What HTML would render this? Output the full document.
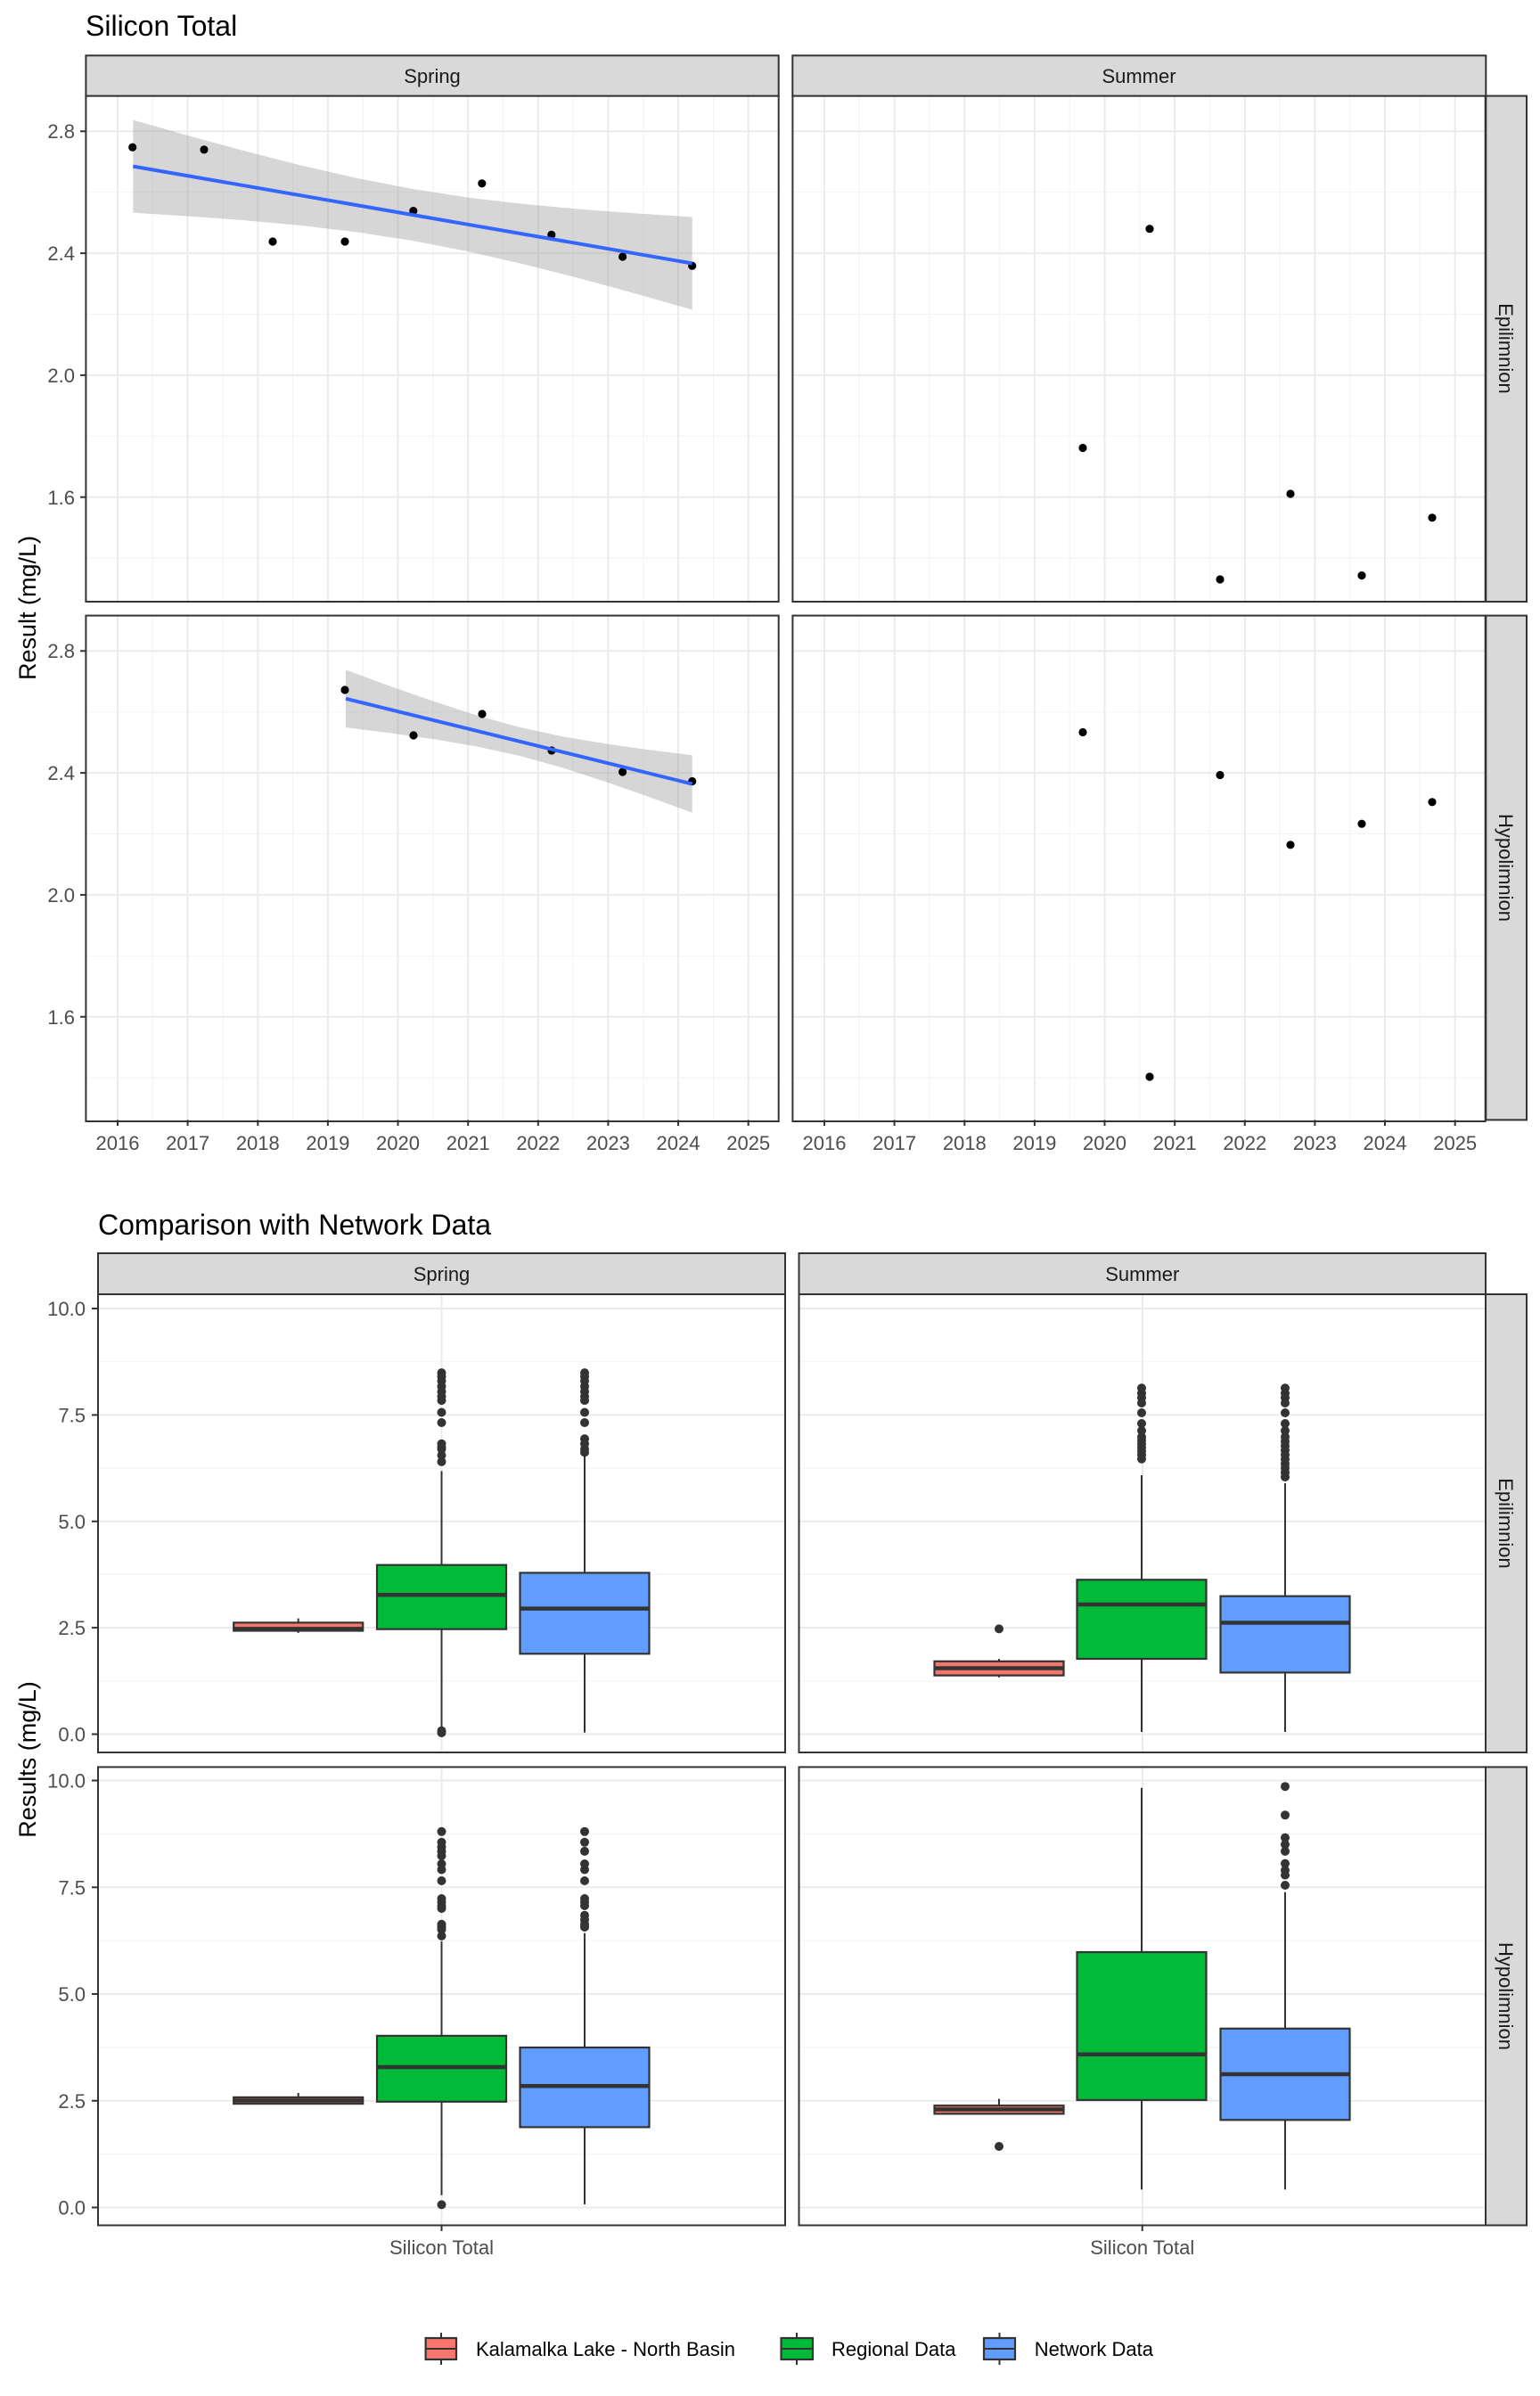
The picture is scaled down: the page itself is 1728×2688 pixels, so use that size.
<!DOCTYPE html>
<html><head><meta charset="utf-8"><style>
html,body{margin:0;padding:0;background:#fff;}
svg{display:block;font-family:"Liberation Sans",Arial,sans-serif;}
.mj{stroke:#ebebeb;stroke-width:2;}
.mn{stroke:#f4f4f4;stroke-width:1.2;}
.pb{fill:none;stroke:#333;stroke-width:2;}
.st{fill:#d9d9d9;stroke:#333;stroke-width:2;}
.tk{stroke:#333;stroke-width:2;}
.yl{font-size:22px;fill:#4d4d4d;text-anchor:end;}
.xl{font-size:22px;fill:#4d4d4d;text-anchor:middle;}
.sl{font-size:22px;fill:#1a1a1a;text-anchor:middle;}
.pt{fill:#000;}
.od{fill:#333;}
.bx{stroke:#333;stroke-width:2.2;}
.md{stroke:#333;stroke-width:4.5;}
.wh{stroke:#333;stroke-width:2;}
</style></head><body>
<svg width="1728" height="2688" viewBox="0 0 1728 2688" xmlns="http://www.w3.org/2000/svg">
<defs>
<g id="tg">
<line class="mn" x1="96.4" x2="873.7" y1="215.7" y2="215.7"/><line class="mn" x1="96.4" x2="873.7" y1="352.5" y2="352.5"/><line class="mn" x1="96.4" x2="873.7" y1="489.3" y2="489.3"/><line class="mn" x1="96.4" x2="873.7" y1="626.1" y2="626.1"/>
<line class="mn" x1="171.3" x2="171.3" y1="107.6" y2="675"/><line class="mn" x1="249.9" x2="249.9" y1="107.6" y2="675"/><line class="mn" x1="328.6" x2="328.6" y1="107.6" y2="675"/><line class="mn" x1="407.2" x2="407.2" y1="107.6" y2="675"/><line class="mn" x1="485.8" x2="485.8" y1="107.6" y2="675"/><line class="mn" x1="564.5" x2="564.5" y1="107.6" y2="675"/><line class="mn" x1="643.1" x2="643.1" y1="107.6" y2="675"/><line class="mn" x1="721.7" x2="721.7" y1="107.6" y2="675"/><line class="mn" x1="800.4" x2="800.4" y1="107.6" y2="675"/>
<line class="mj" x1="96.4" x2="873.7" y1="147.3" y2="147.3"/><line class="mj" x1="96.4" x2="873.7" y1="284.1" y2="284.1"/><line class="mj" x1="96.4" x2="873.7" y1="420.9" y2="420.9"/><line class="mj" x1="96.4" x2="873.7" y1="557.7" y2="557.7"/>
<line class="mj" x1="132" x2="132" y1="107.6" y2="675"/><line class="mj" x1="210.6" x2="210.6" y1="107.6" y2="675"/><line class="mj" x1="289.3" x2="289.3" y1="107.6" y2="675"/><line class="mj" x1="367.9" x2="367.9" y1="107.6" y2="675"/><line class="mj" x1="446.5" x2="446.5" y1="107.6" y2="675"/><line class="mj" x1="525.2" x2="525.2" y1="107.6" y2="675"/><line class="mj" x1="603.8" x2="603.8" y1="107.6" y2="675"/><line class="mj" x1="682.4" x2="682.4" y1="107.6" y2="675"/><line class="mj" x1="761" x2="761" y1="107.6" y2="675"/><line class="mj" x1="839.7" x2="839.7" y1="107.6" y2="675"/>
<rect class="pb" x="96.4" y="107.6" width="777.3" height="567.4"/>
</g>
<g id="bg1">
<line class="mn" x1="110" x2="881" y1="1885.8" y2="1885.8"/><line class="mn" x1="110" x2="881" y1="1766.4" y2="1766.4"/><line class="mn" x1="110" x2="881" y1="1647.1" y2="1647.1"/><line class="mn" x1="110" x2="881" y1="1527.7" y2="1527.7"/>
<line class="mj" x1="110" x2="881" y1="1945.5" y2="1945.5"/><line class="mj" x1="110" x2="881" y1="1826.1" y2="1826.1"/><line class="mj" x1="110" x2="881" y1="1706.8" y2="1706.8"/><line class="mj" x1="110" x2="881" y1="1587.4" y2="1587.4"/><line class="mj" x1="110" x2="881" y1="1468" y2="1468"/>
<line class="mj" x1="495.5" x2="495.5" y1="1452" y2="1966"/>
</g>
<g id="bg2">
<line class="mn" x1="110" x2="881" y1="2416.6" y2="2416.6"/><line class="mn" x1="110" x2="881" y1="2296.9" y2="2296.9"/><line class="mn" x1="110" x2="881" y1="2177.2" y2="2177.2"/><line class="mn" x1="110" x2="881" y1="2057.4" y2="2057.4"/>
<line class="mj" x1="110" x2="881" y1="2476.5" y2="2476.5"/><line class="mj" x1="110" x2="881" y1="2356.8" y2="2356.8"/><line class="mj" x1="110" x2="881" y1="2237" y2="2237"/><line class="mj" x1="110" x2="881" y1="2117.3" y2="2117.3"/><line class="mj" x1="110" x2="881" y1="1997.5" y2="1997.5"/>
<line class="mj" x1="495.5" x2="495.5" y1="1982.4" y2="2496.5"/>
</g>
</defs>

<!-- ===== TOP CHART ===== -->
<text x="96" y="40" font-size="32" fill="#000">Silicon Total</text>

<use href="#tg"/>
<use href="#tg" transform="translate(793,0)"/>
<use href="#tg" transform="translate(0,583)"/>
<use href="#tg" transform="translate(793,583)"/>

<rect class="st" x="96.4" y="62.3" width="777.3" height="45.3"/>
<rect class="st" x="889.3" y="62.3" width="778" height="45.3"/>
<text class="sl" x="485" y="93">Spring</text>
<text class="sl" x="1278" y="93">Summer</text>
<rect class="st" x="1667.3" y="107.6" width="45.7" height="567.4"/>
<rect class="st" x="1667.3" y="690.6" width="45.7" height="565.8"/>
<text class="sl" transform="translate(1690,391) rotate(90)" dy="8">Epilimnion</text>
<text class="sl" transform="translate(1690,973.5) rotate(90)" dy="8">Hypolimnion</text>

<!-- y ticks top -->
<g>
<line class="tk" x1="90" x2="96.4" y1="147.3" y2="147.3"/><line class="tk" x1="90" x2="96.4" y1="284.1" y2="284.1"/><line class="tk" x1="90" x2="96.4" y1="420.9" y2="420.9"/><line class="tk" x1="90" x2="96.4" y1="557.7" y2="557.7"/>
<text class="yl" x="84" y="155">2.8</text><text class="yl" x="84" y="292">2.4</text><text class="yl" x="84" y="429">2.0</text><text class="yl" x="84" y="566">1.6</text>
<line class="tk" x1="90" x2="96.4" y1="730.3" y2="730.3"/><line class="tk" x1="90" x2="96.4" y1="867.1" y2="867.1"/><line class="tk" x1="90" x2="96.4" y1="1003.9" y2="1003.9"/><line class="tk" x1="90" x2="96.4" y1="1140.7" y2="1140.7"/>
<text class="yl" x="84" y="738">2.8</text><text class="yl" x="84" y="875">2.4</text><text class="yl" x="84" y="1012">2.0</text><text class="yl" x="84" y="1149">1.6</text>
</g>
<!-- x ticks top -->
<g>
<line class="tk" x1="132" x2="132" y1="1256.4" y2="1263"/><line class="tk" x1="210.6" x2="210.6" y1="1256.4" y2="1263"/><line class="tk" x1="289.3" x2="289.3" y1="1256.4" y2="1263"/><line class="tk" x1="367.9" x2="367.9" y1="1256.4" y2="1263"/><line class="tk" x1="446.5" x2="446.5" y1="1256.4" y2="1263"/><line class="tk" x1="525.2" x2="525.2" y1="1256.4" y2="1263"/><line class="tk" x1="603.8" x2="603.8" y1="1256.4" y2="1263"/><line class="tk" x1="682.4" x2="682.4" y1="1256.4" y2="1263"/><line class="tk" x1="761" x2="761" y1="1256.4" y2="1263"/><line class="tk" x1="839.7" x2="839.7" y1="1256.4" y2="1263"/>
<text class="xl" x="132" y="1290">2016</text><text class="xl" x="210.6" y="1290">2017</text><text class="xl" x="289.3" y="1290">2018</text><text class="xl" x="367.9" y="1290">2019</text><text class="xl" x="446.5" y="1290">2020</text><text class="xl" x="525.2" y="1290">2021</text><text class="xl" x="603.8" y="1290">2022</text><text class="xl" x="682.4" y="1290">2023</text><text class="xl" x="761" y="1290">2024</text><text class="xl" x="839.7" y="1290">2025</text>
</g>
<g transform="translate(793,0)">
<line class="tk" x1="132" x2="132" y1="1256.4" y2="1263"/><line class="tk" x1="210.6" x2="210.6" y1="1256.4" y2="1263"/><line class="tk" x1="289.3" x2="289.3" y1="1256.4" y2="1263"/><line class="tk" x1="367.9" x2="367.9" y1="1256.4" y2="1263"/><line class="tk" x1="446.5" x2="446.5" y1="1256.4" y2="1263"/><line class="tk" x1="525.2" x2="525.2" y1="1256.4" y2="1263"/><line class="tk" x1="603.8" x2="603.8" y1="1256.4" y2="1263"/><line class="tk" x1="682.4" x2="682.4" y1="1256.4" y2="1263"/><line class="tk" x1="761" x2="761" y1="1256.4" y2="1263"/><line class="tk" x1="839.7" x2="839.7" y1="1256.4" y2="1263"/>
<text class="xl" x="132" y="1290">2016</text><text class="xl" x="210.6" y="1290">2017</text><text class="xl" x="289.3" y="1290">2018</text><text class="xl" x="367.9" y="1290">2019</text><text class="xl" x="446.5" y="1290">2020</text><text class="xl" x="525.2" y="1290">2021</text><text class="xl" x="603.8" y="1290">2022</text><text class="xl" x="682.4" y="1290">2023</text><text class="xl" x="761" y="1290">2024</text><text class="xl" x="839.7" y="1290">2025</text>
</g>

<text transform="translate(40,682) rotate(-90)" text-anchor="middle" font-size="27" fill="#000">Result (mg/L)</text>

<!-- spring epi band & line -->
<path d="M149.3,134.6 L212,152.4 L275,169.5 L338,185.6 L400,199.8 L463,212 L526,221.7 L589,229 L652,234.9 L714,239.4 L776.7,243.5 L776.7,347.5 L714,329.6 L652,312.7 L589,296.8 L526,282.3 L463,270 L400,260.4 L338,253 L275,247.3 L212,242.6 L149.3,238.6 Z" fill="#999" fill-opacity="0.4"/>
<g class="pt">
<circle cx="148.7" cy="165.2" r="4.6"/><circle cx="229" cy="167.9" r="4.6"/><circle cx="306" cy="271" r="4.6"/><circle cx="387" cy="271" r="4.6"/><circle cx="463.8" cy="236.6" r="4.6"/><circle cx="540.8" cy="205.8" r="4.6"/><circle cx="618.8" cy="263.4" r="4.6"/><circle cx="698.6" cy="288" r="4.6"/><circle cx="776.7" cy="298.2" r="4.6"/>
</g>
<line x1="149.3" y1="186.6" x2="776.7" y2="295.5" stroke="#3366FF" stroke-width="4"/>

<!-- spring hypo -->
<path d="M388,751.5 L436.6,769.4 L485.2,786.4 L533.8,802.2 L582.4,815.7 L631,826.2 L679.6,834.4 L728.2,841.2 L776.7,847.2 L776.7,911.8 L728.2,894 L679.6,877 L631,861.2 L582.4,847.7 L533.8,837.2 L485.2,829 L436.6,822.2 L388,816.1 Z" fill="#999" fill-opacity="0.4"/>
<g class="pt">
<circle cx="387" cy="774" r="4.6"/><circle cx="464" cy="825" r="4.6"/><circle cx="541" cy="801" r="4.6"/><circle cx="619" cy="842" r="4.6"/><circle cx="698.6" cy="866" r="4.6"/><circle cx="776.7" cy="876.5" r="4.6"/>
</g>
<line x1="388" y1="783.8" x2="776.7" y2="879.5" stroke="#3366FF" stroke-width="4"/>

<!-- summer points -->
<g class="pt">
<circle cx="1215" cy="502.5" r="4.6"/><circle cx="1290" cy="256.7" r="4.6"/><circle cx="1369" cy="650" r="4.6"/><circle cx="1448" cy="554" r="4.6"/><circle cx="1528" cy="645.6" r="4.6"/><circle cx="1607" cy="580.8" r="4.6"/>
<circle cx="1215" cy="821.5" r="4.6"/><circle cx="1290" cy="1208" r="4.6"/><circle cx="1369" cy="869.5" r="4.6"/><circle cx="1448" cy="947.8" r="4.6"/><circle cx="1528" cy="924.2" r="4.6"/><circle cx="1607" cy="899.8" r="4.6"/>
</g>

<!-- ===== BOTTOM CHART ===== -->
<text x="110" y="1385" font-size="32" fill="#000">Comparison with Network Data</text>

<use href="#bg1"/>
<use href="#bg1" transform="translate(786.5,0)"/>
<use href="#bg2"/>
<use href="#bg2" transform="translate(786.5,0)"/>

<rect class="st" x="110" y="1406" width="771" height="46"/>
<rect class="st" x="896.5" y="1406" width="770.5" height="46"/>
<text class="sl" x="495.5" y="1437">Spring</text>
<text class="sl" x="1281.75" y="1437">Summer</text>
<rect class="st" x="1667" y="1452" width="46" height="514"/>
<rect class="st" x="1667" y="1982.4" width="46" height="514.1"/>
<text class="sl" transform="translate(1690,1709) rotate(90)" dy="8">Epilimnion</text>
<text class="sl" transform="translate(1690,2239.5) rotate(90)" dy="8">Hypolimnion</text>

<g>
<line class="tk" x1="103" x2="110" y1="1945.5" y2="1945.5"/><line class="tk" x1="103" x2="110" y1="1826.1" y2="1826.1"/><line class="tk" x1="103" x2="110" y1="1706.8" y2="1706.8"/><line class="tk" x1="103" x2="110" y1="1587.4" y2="1587.4"/><line class="tk" x1="103" x2="110" y1="1468" y2="1468"/>
<text class="yl" x="96" y="1953.5">0.0</text><text class="yl" x="96" y="1834">2.5</text><text class="yl" x="96" y="1715">5.0</text><text class="yl" x="96" y="1595.5">7.5</text><text class="yl" x="96" y="1476">10.0</text>
<line class="tk" x1="103" x2="110" y1="2476.5" y2="2476.5"/><line class="tk" x1="103" x2="110" y1="2356.8" y2="2356.8"/><line class="tk" x1="103" x2="110" y1="2237" y2="2237"/><line class="tk" x1="103" x2="110" y1="2117.3" y2="2117.3"/><line class="tk" x1="103" x2="110" y1="1997.5" y2="1997.5"/>
<text class="yl" x="96" y="2484.5">0.0</text><text class="yl" x="96" y="2365">2.5</text><text class="yl" x="96" y="2245">5.0</text><text class="yl" x="96" y="2125.5">7.5</text><text class="yl" x="96" y="2005.5">10.0</text>
<line class="tk" x1="495.5" x2="495.5" y1="2496.5" y2="2503"/><line class="tk" x1="1281.75" x2="1281.75" y1="2496.5" y2="2503"/>
<text class="xl" x="495.5" y="2529">Silicon Total</text><text class="xl" x="1281.75" y="2529">Silicon Total</text>
</g>
<text transform="translate(40,1974) rotate(-90)" text-anchor="middle" font-size="27" fill="#000">Results (mg/L)</text>

<!-- Spring Epi boxes -->
<line class="wh" x1="334.7" x2="334.7" y1="1815.6" y2="1831.9"/>
<rect class="bx" x="262.2" y="1820.4" width="145" height="9.1" fill="#F8766D"/>
<line class="md" x1="262.2" x2="407.2" y1="1827.4" y2="1827.4"/>

<line class="wh" x1="495.5" x2="495.5" y1="1650.4" y2="1943"/>
<rect class="bx" x="423" y="1755.7" width="145" height="72" fill="#00BA38"/>
<line class="md" x1="423" x2="568" y1="1789.3" y2="1789.3"/>
<g class="od"><circle cx="495.5" cy="1540.1" r="5"/><circle cx="495.5" cy="1544.4" r="5"/><circle cx="495.5" cy="1549.2" r="5"/><circle cx="495.5" cy="1555.4" r="5"/><circle cx="495.5" cy="1561.1" r="5"/><circle cx="495.5" cy="1566.8" r="5"/><circle cx="495.5" cy="1571.1" r="5"/><circle cx="495.5" cy="1584.5" r="5"/><circle cx="495.5" cy="1596" r="5"/><circle cx="495.5" cy="1619.8" r="5"/><circle cx="495.5" cy="1623.2" r="5"/><circle cx="495.5" cy="1625.6" r="5"/><circle cx="495.5" cy="1632.7" r="5"/><circle cx="495.5" cy="1639.9" r="5"/><circle cx="495.5" cy="1941.7" r="5"/><circle cx="495.5" cy="1944" r="5"/></g>

<line class="wh" x1="656" x2="656" y1="1631.3" y2="1943.6"/>
<rect class="bx" x="583.5" y="1764.5" width="145" height="90.8" fill="#619CFF"/>
<line class="md" x1="583.5" x2="728.5" y1="1804.6" y2="1804.6"/>
<g class="od"><circle cx="656" cy="1540.1" r="5"/><circle cx="656" cy="1544.4" r="5"/><circle cx="656" cy="1549.2" r="5"/><circle cx="656" cy="1555.4" r="5"/><circle cx="656" cy="1561.1" r="5"/><circle cx="656" cy="1566.8" r="5"/><circle cx="656" cy="1571.1" r="5"/><circle cx="656" cy="1584.5" r="5"/><circle cx="656" cy="1596" r="5"/><circle cx="656" cy="1614.1" r="5"/><circle cx="656" cy="1619.8" r="5"/><circle cx="656" cy="1625.6" r="5"/><circle cx="656" cy="1629.4" r="5"/></g>

<!-- Summer Epi boxes -->
<line class="wh" x1="1121" x2="1121" y1="1861.1" y2="1881.8"/>
<rect class="bx" x="1048.5" y="1863.8" width="145" height="15.8" fill="#F8766D"/>
<line class="md" x1="1048.5" x2="1193.5" y1="1871.5" y2="1871.5"/>
<circle class="od" cx="1121" cy="1827.4" r="5"/>

<line class="wh" x1="1281" x2="1281" y1="1655" y2="1943"/>
<rect class="bx" x="1208.5" y="1772.3" width="145" height="88.7" fill="#00BA38"/>
<line class="md" x1="1208.5" x2="1353.5" y1="1800" y2="1800"/>
<g class="od"><circle cx="1281" cy="1557.3" r="5"/><circle cx="1281" cy="1563" r="5"/><circle cx="1281" cy="1568" r="5"/><circle cx="1281" cy="1574" r="5"/><circle cx="1281" cy="1585" r="5"/><circle cx="1281" cy="1597" r="5"/><circle cx="1281" cy="1605" r="5"/><circle cx="1281" cy="1612" r="5"/><circle cx="1281" cy="1616" r="5"/><circle cx="1281" cy="1620" r="5"/><circle cx="1281" cy="1624" r="5"/><circle cx="1281" cy="1628" r="5"/><circle cx="1281" cy="1632" r="5"/><circle cx="1281" cy="1636.7" r="5"/></g>

<line class="wh" x1="1442" x2="1442" y1="1664" y2="1943"/>
<rect class="bx" x="1369.5" y="1790.7" width="145" height="85.7" fill="#619CFF"/>
<line class="md" x1="1369.5" x2="1514.5" y1="1820.5" y2="1820.5"/>
<g class="od"><circle cx="1442" cy="1557.3" r="5"/><circle cx="1442" cy="1563" r="5"/><circle cx="1442" cy="1568" r="5"/><circle cx="1442" cy="1574" r="5"/><circle cx="1442" cy="1585" r="5"/><circle cx="1442" cy="1597" r="5"/><circle cx="1442" cy="1605" r="5"/><circle cx="1442" cy="1612" r="5"/><circle cx="1442" cy="1617" r="5"/><circle cx="1442" cy="1622" r="5"/><circle cx="1442" cy="1627" r="5"/><circle cx="1442" cy="1632" r="5"/><circle cx="1442" cy="1637" r="5"/><circle cx="1442" cy="1642" r="5"/><circle cx="1442" cy="1647" r="5"/><circle cx="1442" cy="1652" r="5"/><circle cx="1442" cy="1657" r="5"/></g>

<!-- Spring Hypo boxes -->
<line class="wh" x1="334.7" x2="334.7" y1="2348" y2="2360.5"/>
<rect class="bx" x="262.2" y="2352.9" width="145" height="7.2" fill="#F8766D"/>
<line class="md" x1="262.2" x2="407.2" y1="2356.5" y2="2356.5"/>

<line class="wh" x1="495.5" x2="495.5" y1="2177.9" y2="2462.8"/>
<rect class="bx" x="423" y="2283.9" width="145" height="73.9" fill="#00BA38"/>
<line class="md" x1="423" x2="568" y1="2319" y2="2319"/>
<g class="od"><circle cx="495.5" cy="2054.8" r="5"/><circle cx="495.5" cy="2066.8" r="5"/><circle cx="495.5" cy="2072" r="5"/><circle cx="495.5" cy="2076.9" r="5"/><circle cx="495.5" cy="2082" r="5"/><circle cx="495.5" cy="2091" r="5"/><circle cx="495.5" cy="2097.5" r="5"/><circle cx="495.5" cy="2110" r="5"/><circle cx="495.5" cy="2130" r="5"/><circle cx="495.5" cy="2134" r="5"/><circle cx="495.5" cy="2138" r="5"/><circle cx="495.5" cy="2141" r="5"/><circle cx="495.5" cy="2158.8" r="5"/><circle cx="495.5" cy="2162" r="5"/><circle cx="495.5" cy="2164.8" r="5"/><circle cx="495.5" cy="2171.9" r="5"/><circle cx="495.5" cy="2473.4" r="5"/></g>

<line class="wh" x1="656" x2="656" y1="2168.8" y2="2473"/>
<rect class="bx" x="583.5" y="2297" width="145" height="89.4" fill="#619CFF"/>
<line class="md" x1="583.5" x2="728.5" y1="2340.2" y2="2340.2"/>
<g class="od"><circle cx="656" cy="2054.8" r="5"/><circle cx="656" cy="2066.8" r="5"/><circle cx="656" cy="2076.9" r="5"/><circle cx="656" cy="2091" r="5"/><circle cx="656" cy="2097.5" r="5"/><circle cx="656" cy="2110" r="5"/><circle cx="656" cy="2130" r="5"/><circle cx="656" cy="2134" r="5"/><circle cx="656" cy="2138" r="5"/><circle cx="656" cy="2148.7" r="5"/><circle cx="656" cy="2153.8" r="5"/><circle cx="656" cy="2158.8" r="5"/><circle cx="656" cy="2162" r="5"/></g>

<!-- Summer Hypo boxes -->
<line class="wh" x1="1121" x2="1121" y1="2354.6" y2="2371.4"/>
<rect class="bx" x="1048.5" y="2362.2" width="145" height="9.2" fill="#F8766D"/>
<line class="md" x1="1048.5" x2="1193.5" y1="2366.5" y2="2366.5"/>
<circle class="od" cx="1121" cy="2408" r="5"/>

<line class="wh" x1="1281" x2="1281" y1="2005.7" y2="2456.4"/>
<rect class="bx" x="1208.5" y="2190" width="145" height="166" fill="#00BA38"/>
<line class="md" x1="1208.5" x2="1353.5" y1="2304.8" y2="2304.8"/>

<line class="wh" x1="1442" x2="1442" y1="2122.8" y2="2456.4"/>
<rect class="bx" x="1369.5" y="2275.8" width="145" height="102.5" fill="#619CFF"/>
<line class="md" x1="1369.5" x2="1514.5" y1="2327" y2="2327"/>
<g class="od"><circle cx="1442" cy="2004.2" r="5"/><circle cx="1442" cy="2036.3" r="5"/><circle cx="1442" cy="2061.6" r="5"/><circle cx="1442" cy="2069.2" r="5"/><circle cx="1442" cy="2076.9" r="5"/><circle cx="1442" cy="2090.6" r="5"/><circle cx="1442" cy="2098.3" r="5"/><circle cx="1442" cy="2103.6" r="5"/><circle cx="1442" cy="2115" r="5"/></g>

<!-- panel borders bottom -->
<rect class="pb" x="110" y="1452" width="771" height="514"/>
<rect class="pb" x="896.5" y="1452" width="770.5" height="514"/>
<rect class="pb" x="110" y="1982.4" width="771" height="514.1"/>
<rect class="pb" x="896.5" y="1982.4" width="770.5" height="514.1"/>

<!-- legend -->
<g>
<line class="wh" x1="495" x2="495" y1="2617" y2="2653"/>
<rect class="bx" x="477.6" y="2623" width="34.4" height="24" fill="#F8766D"/>
<line class="wh" x1="477.6" x2="512" y1="2635" y2="2635" stroke-width="2.5"/>
<text x="534" y="2643" font-size="22" fill="#000">Kalamalka Lake - North Basin</text>
<line class="wh" x1="894" x2="894" y1="2617" y2="2653"/>
<rect class="bx" x="876.5" y="2623" width="35.5" height="24" fill="#00BA38"/>
<line class="wh" x1="876.5" x2="912" y1="2635" y2="2635" stroke-width="2.5"/>
<text x="933" y="2643" font-size="22" fill="#000">Regional Data</text>
<line class="wh" x1="1121.5" x2="1121.5" y1="2617" y2="2653"/>
<rect class="bx" x="1104" y="2623" width="35" height="24" fill="#619CFF"/>
<line class="wh" x1="1104" x2="1139" y1="2635" y2="2635" stroke-width="2.5"/>
<text x="1160.7" y="2643" font-size="22" fill="#000">Network Data</text>
</g>
</svg>
</body></html>
